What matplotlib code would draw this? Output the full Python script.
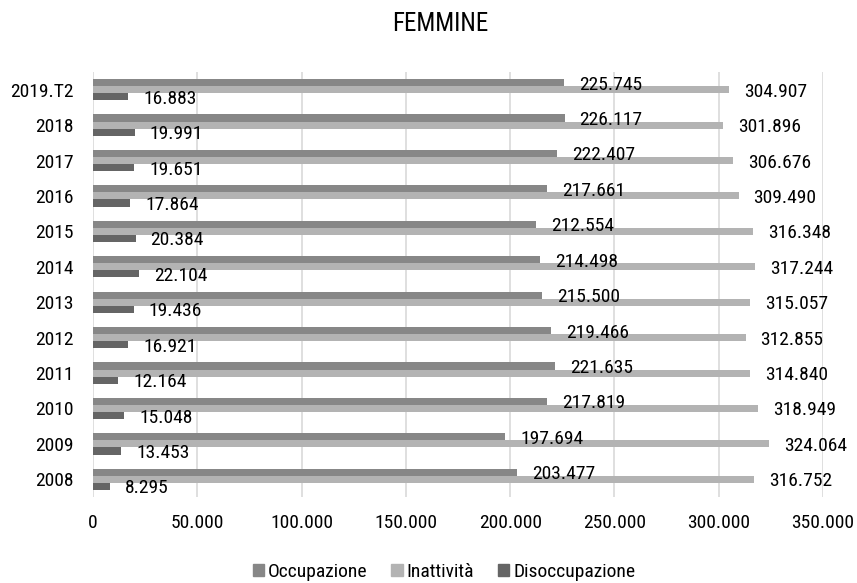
import matplotlib
matplotlib.use("Agg")
import matplotlib.pyplot as plt
import numpy as np
from matplotlib.ticker import FuncFormatter
from matplotlib.patches import Patch

plt.rcParams['font.family'] = ['Roboto Condensed', 'DejaVu Sans']

years = ["2008", "2009", "2010", "2011", "2012", "2013", "2014", "2015",
         "2016", "2017", "2018", "2019.T2"]
occupazione = [203477, 197694, 217819, 221635, 219466, 215500, 214498, 212554,
               217661, 222407, 226117, 225745]
inattivita = [316752, 324064, 318949, 314840, 312855, 315057, 317244, 316348,
              309490, 306676, 301896, 304907]
disoccupazione = [8295, 13453, 15048, 12164, 16921, 19436, 22104, 20384,
                  17864, 19651, 19991, 16883]

c_occ = "#878787"
c_ina = "#b3b3b3"
c_dis = "#656565"


def fmt_it(v):
    return "{:,}".format(int(v)).replace(",", ".")


fig = plt.figure(figsize=(8.57, 5.83), dpi=100)
ax = fig.add_axes([93 / 857, 1 - 497 / 583, 730 / 857, 425 / 583])

y = np.arange(len(years))
h = 0.2
series = [(occupazione, c_occ, h), (inattivita, c_ina, 0.0), (disoccupazione, c_dis, -h)]
for vals, col, off in series:
    ax.barh(y + off, vals, height=h, color=col, zorder=2)

# labels sit a bit right of the bar end, slightly below its centre
for vals, col, off in series:
    for yi, v in zip(y, vals):
        ax.annotate(fmt_it(v), xy=(v, yi + off), xytext=(15, -2),
                    textcoords="offset pixels", ha="left", va="center",
                    fontsize=14, color="#000000", zorder=3)

ax.set_xlim(0, 350000)
ax.set_ylim(-0.5, len(years) - 0.5)
ax.set_xticks(np.arange(0, 350001, 50000))
ax.xaxis.set_major_formatter(FuncFormatter(lambda v, p: fmt_it(v)))
ax.set_yticks(y)
ax.set_yticklabels(years)
ax.tick_params(axis="both", length=0, labelsize=14, colors="#000000")
ax.tick_params(axis="x", pad=12)
ax.tick_params(axis="y", pad=14)
ax.grid(axis="x", color="#d9d9d9", linewidth=1.2, zorder=0)
ax.set_axisbelow(True)
for s in ax.spines.values():
    s.set_visible(False)

fig.text(440 / 857, 1 - 24 / 583, "FEMMINE", ha="center", va="center", fontsize=18)

handles = [Patch(color=c_occ), Patch(color=c_ina), Patch(color=c_dis)]
fig.legend(handles, ["Occupazione", "Inattività", "Disoccupazione"],
           loc="center", bbox_to_anchor=(0.518, 1 - 572 / 583), ncol=3,
           frameon=False, fontsize=14, handlelength=0.6, handleheight=0.6,
           handletextpad=0.2, columnspacing=1.2)

fig.savefig("out.png", dpi=100)
